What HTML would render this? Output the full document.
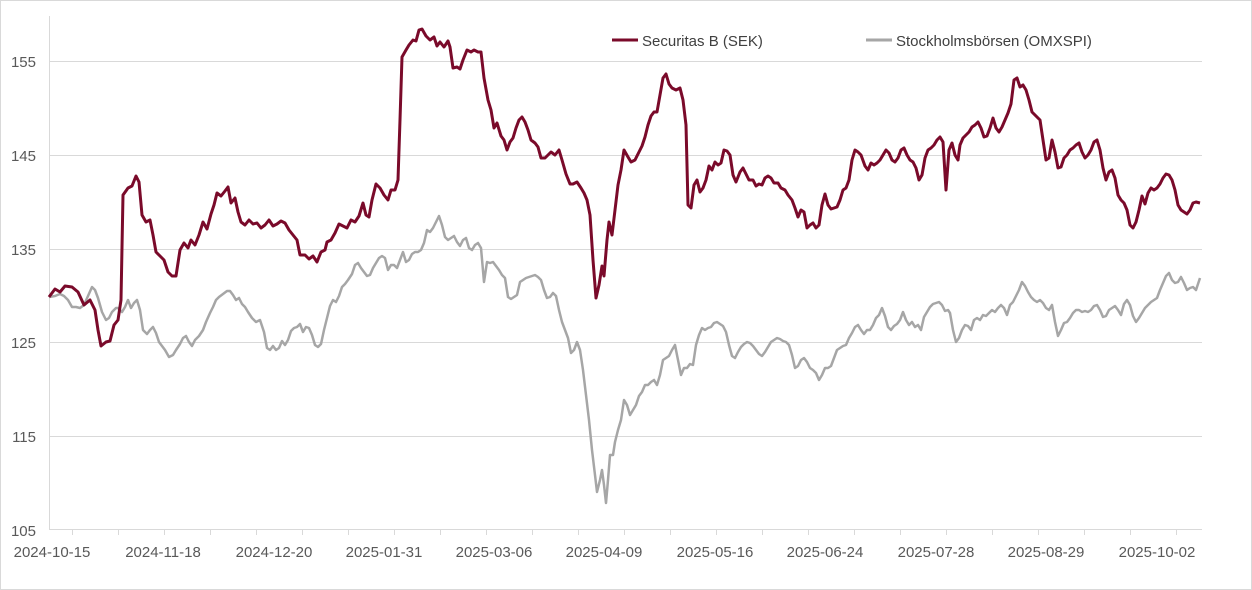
<!DOCTYPE html>
<html><head><meta charset="utf-8"><style>
html,body{margin:0;padding:0;background:#fff}
svg{display:block;font-family:"Liberation Sans",sans-serif}
</style></head><body>
<svg width="1252" height="590" viewBox="0 0 1252 590" xmlns="http://www.w3.org/2000/svg">
<rect x="0.5" y="0.5" width="1251" height="589" fill="#fff" stroke="#d9d9d9"/>
<g stroke="#d9d9d9" stroke-width="1">
<line x1="49" y1="61.5" x2="1202" y2="61.5"/>
<line x1="49" y1="155.5" x2="1202" y2="155.5"/>
<line x1="49" y1="249.5" x2="1202" y2="249.5"/>
<line x1="49" y1="342.5" x2="1202" y2="342.5"/>
<line x1="49" y1="436.5" x2="1202" y2="436.5"/>
<line x1="49.5" y1="16" x2="49.5" y2="530"/>
<line x1="49" y1="529.5" x2="1202" y2="529.5"/>
</g>
<g stroke="#d9d9d9" id="ticks"></g>
<g fill="#595959" font-size="15" text-anchor="end">
<text x="36" y="67">155</text><text x="36" y="161">145</text><text x="36" y="255">135</text>
<text x="36" y="348">125</text><text x="36" y="442">115</text><text x="36" y="536">105</text>
</g>
<g fill="#595959" font-size="15" text-anchor="middle">
<text x="52" y="557">2024-10-15</text><text x="163" y="557">2024-11-18</text><text x="274" y="557">2024-12-20</text>
<text x="384" y="557">2025-01-31</text><text x="494" y="557">2025-03-06</text><text x="604" y="557">2025-04-09</text>
<text x="715" y="557">2025-05-16</text><text x="825" y="557">2025-06-24</text><text x="936" y="557">2025-07-28</text>
<text x="1046" y="557">2025-08-29</text><text x="1157" y="557">2025-10-02</text>
</g>
<line x1="612" y1="40" x2="638" y2="40" stroke="#7a0a2a" stroke-width="3"/>
<text x="642" y="46" font-size="15" fill="#404040">Securitas B (SEK)</text>
<line x1="866" y1="40" x2="892" y2="40" stroke="#a6a6a6" stroke-width="3"/>
<text x="896" y="46" font-size="15" fill="#404040">Stockholmsbörsen (OMXSPI)</text>
<polyline fill="none" stroke="#a6a6a6" stroke-width="2.5" stroke-linejoin="round" points="49,297 55,296 60,294 64,296 68,300 72,307 76,307 80,308 84,305 88,296 92,287 95,290 98,298 102,312 106,320 109,318 112,312 116,308 118,308 122,312 125,307 128,300 131,308 134,303 137,300 140,310 143,330 147,334 150,330 153,327 156,333 159,342 162,346 165,350 169,357 173,355 176,350 180,344 183,338 186,336 189,342 192,346 195,340 199,336 203,330 206,322 210,313 213,307 216,300 219,297 223,294 227,291 230,291 233,295 236,300 239,298 242,304 245,307 248,312 252,318 256,322 260,320 264,332 267,348 270,350 273,346 276,350 279,348 282,341 285,345 288,340 291,331 294,328 297,327 300,324 303,332 306,327 309,328 312,335 315,345 318,347 321,344 324,330 327,318 330,306 333,300 336,302 339,296 342,287 345,284 348,280 352,274 355,265 358,263 361,268 364,272 367,276 370,275 373,268 376,263 379,258 382,256 385,258 388,270 391,265 394,265 397,268 400,260 403,252 406,262 409,260 412,254 415,252 418,252 421,250 424,243 427,230 430,232 433,228 436,222 439,216 442,225 445,237 448,240 451,238 454,236 457,242 460,246 463,240 466,238 469,248 472,250 475,245 478,243 481,248 484,282 487,262 490,263 493,262 496,266 499,270 502,275 505,278 508,297 511,299 514,297 517,295 520,282 523,280 526,278 529,277 532,276 535,275 538,277 541,280 544,290 547,298 550,297 553,293 556,296 559,310 562,322 565,330 568,338 571,353 574,350 577,342 580,350 583,370 586,395 589,420 592,450 595,475 597,492 600,480 602,470 604,485 606,503 608,480 610,455 613,455 615,442 618,430 621,420 624,400 627,405 630,415 633,410 636,405 639,396 642,392 645,385 648,385 651,382 654,380 657,385 660,375 663,360 666,358 669,356 672,350 675,345 678,360 681,375 684,368 687,368 690,364 693,365 696,345 699,335 702,328 705,330 708,328 711,327 714,323 717,322 720,324 723,326 726,332 729,345 732,356 735,358 738,352 741,347 744,344 747,342 750,343 753,346 756,350 759,354 762,356 765,352 768,347 771,342 774,340 777,338 780,339 783,341 786,342 789,345 792,355 795,368 798,366 801,360 804,358 807,362 810,368 813,370 816,373 819,380 822,375 825,368 828,368 831,366 834,358 837,350 840,348 843,346 846,345 849,338 852,333 855,327 858,325 861,330 864,334 867,330 870,330 873,325 876,318 879,315 882,308 885,316 888,327 891,330 894,326 897,324 900,320 903,312 906,320 909,325 912,322 915,327 918,325 921,330 924,317 927,312 930,307 933,304 936,303 939,302 942,305 945,311 948,310 950,313 953,330 956,342 959,338 962,330 965,325 968,326 971,330 974,320 977,318 980,320 983,315 986,316 989,313 992,310 995,312 998,308 1001,305 1004,308 1007,315 1010,305 1013,302 1016,296 1019,290 1022,282 1025,286 1028,292 1031,297 1034,300 1037,302 1040,300 1043,303 1046,308 1049,310 1052,305 1055,322 1058,336 1061,330 1064,323 1067,322 1070,318 1073,313 1076,310 1079,310 1082,312 1085,311 1088,312 1091,310 1094,306 1097,305 1100,310 1103,317 1106,316 1109,310 1112,308 1115,306 1118,310 1121,315 1124,304 1127,300 1130,305 1133,316 1136,322 1139,318 1142,313 1145,308 1148,305 1151,302 1154,300 1157,298 1160,290 1163,283 1166,276 1169,273 1172,280 1175,283 1178,282 1181,277 1184,283 1187,290 1190,288 1193,287 1196,290 1200,278"/>
<polyline fill="none" stroke="#7a0a2a" stroke-width="3" stroke-linejoin="round" points="49,297 55,289 60,292 65,286 72,287 78,292 84,305 90,300 95,310 98,330 101,346 106,342 110,341 114,325 118,320 121,300 123,195 128,188 132,186 136,176 139,182 142,215 146,222 150,220 153,235 156,252 160,256 164,260 168,272 172,276 176,276 180,250 184,243 188,248 191,240 195,245 199,235 203,222 207,229 211,214 214,205 217,193 221,196 225,191 228,187 231,203 235,198 238,212 241,222 245,225 249,220 253,224 257,223 261,228 265,225 269,220 273,226 277,224 281,221 285,223 289,230 293,235 297,240 300,255 305,255 309,259 313,256 317,262 321,252 325,250 327,242 331,240 335,233 339,224 343,226 347,228 351,220 355,222 359,216 363,203 366,215 369,217 372,200 376,184 380,188 384,195 388,200 391,190 395,190 398,180 400,120 402,57 406,50 409,45 413,40 416,41 419,30 422,29 426,36 430,40 434,37 437,46 440,42 444,47 448,41 450,47 453,68 457,67 460,69 463,60 467,50 471,52 474,50 478,52 481,52 484,78 488,100 491,110 494,128 497,123 501,136 504,140 507,150 510,142 513,138 516,128 519,120 522,117 525,122 528,130 531,140 535,143 538,147 541,158 545,158 548,155 551,152 555,155 559,150 562,160 566,174 570,184 573,184 577,182 581,188 584,193 587,200 590,215 593,260 596,298 599,285 602,266 604,276 607,240 609,222 612,235 615,210 618,185 621,170 624,150 628,157 631,162 635,160 639,152 642,146 645,137 648,125 651,116 654,112 657,112 660,95 663,78 666,74 669,84 672,88 676,90 680,88 683,100 686,125 688,205 691,208 694,185 697,180 700,192 703,188 706,180 709,166 712,170 715,162 718,165 721,163 724,150 727,151 730,155 733,175 736,182 740,172 743,168 746,174 749,180 753,180 756,186 759,184 762,185 765,178 768,176 771,178 774,183 778,183 781,188 785,190 788,195 792,200 795,208 798,217 801,210 804,212 807,228 810,225 813,223 816,228 819,225 822,205 825,194 828,205 831,209 834,208 837,207 840,200 843,190 846,188 849,180 852,160 855,150 858,152 861,155 865,166 868,170 871,163 874,165 877,163 880,160 883,155 886,150 889,153 892,160 895,162 898,158 901,150 904,148 907,155 910,160 913,162 916,168 919,180 922,175 925,158 928,150 931,148 934,145 937,140 940,137 943,142 946,190 949,150 952,143 955,155 958,160 960,145 963,138 966,135 969,132 972,127 975,125 978,122 981,128 984,137 987,136 990,128 993,118 996,128 999,132 1002,127 1005,120 1008,113 1011,104 1014,80 1017,78 1020,87 1023,85 1026,90 1029,100 1032,112 1035,115 1038,118 1040,120 1043,140 1046,160 1049,158 1052,140 1055,152 1058,168 1061,167 1064,158 1067,155 1070,150 1073,148 1076,145 1079,143 1082,152 1085,158 1088,155 1091,150 1094,142 1097,140 1100,150 1103,168 1106,180 1109,172 1112,170 1115,178 1118,195 1121,200 1124,203 1127,210 1130,225 1133,228 1136,222 1139,210 1142,196 1145,204 1148,193 1151,188 1154,190 1157,188 1160,184 1163,178 1166,174 1169,175 1172,180 1175,190 1178,205 1181,210 1184,212 1187,214 1190,210 1193,203 1196,202 1200,203"/>
</svg>
<script>
var g=document.getElementById('ticks');
for(var x=72;x<1202;x+=46){var l=document.createElementNS('http://www.w3.org/2000/svg','line');l.setAttribute('x1',x+.5);l.setAttribute('x2',x+.5);l.setAttribute('y1',530);l.setAttribute('y2',535);g.appendChild(l);}
</script>
</body></html>
